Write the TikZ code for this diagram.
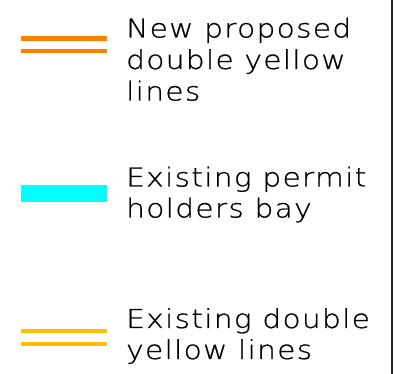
\documentclass[tikz,border=0pt]{standalone}
\usepackage{fontspec}
\setmainfont{DejaVu Sans ExtraLight}[LetterSpace=5,FakeStretch=1.14,FakeBold=0.8]
\begin{document}
\begin{tikzpicture}[x=1pt,y=-1pt,
  legtext/.style={anchor=base west,inner sep=0pt,font=\fontsize{26}{31}\selectfont,text=black},
  newdyl/.style={line width=4.5pt,color=neworange},
  exdyl/.style={line width=4pt,color=exyellow},
  bay/.style={fill=baycyan,draw=none}]
\definecolor{neworange}{RGB}{255,128,0}
\definecolor{exyellow}{RGB}{255,191,0}
\definecolor{baycyan}{RGB}{0,255,255}
\useasboundingbox (0,0) rectangle (394,374);
% border
\coordinate (bt) at (392,0);
\coordinate (bb) at (392,374);
\draw[line width=1.5pt,black!85] (bt) -- (bb);
% new double yellow lines
\coordinate (n1a) at (21,38.3); \coordinate (n1b) at (107,38.3);
\coordinate (n2a) at (21,51);   \coordinate (n2b) at (107,51);
\draw[newdyl] (n1a) -- (n1b);
\draw[newdyl] (n2a) -- (n2b);
\node[legtext] (t1a) at (126,37.5) {New proposed};
\node[legtext] (t1b) at (126,69) {double yellow};
\node[legtext] (t1c) at (126,100.5) {lines};
% permit holders bay
\coordinate (p1) at (21,185); \coordinate (p2) at (107,202);
\fill[bay] (p1) rectangle (p2);
\node[legtext] (t2a) at (126,186.5) {Existing permit};
\node[legtext] (t2b) at (126,217.5) {holders bay};
% existing double yellow lines
\coordinate (e1a) at (21,331); \coordinate (e1b) at (107,331);
\coordinate (e2a) at (21,344); \coordinate (e2b) at (107,344);
\draw[exdyl] (e1a) -- (e1b);
\draw[exdyl] (e2a) -- (e2b);
\node[legtext] (t3a) at (126,328) {Existing double};
\node[legtext] (t3b) at (126,359) {yellow lines};
\end{tikzpicture}
\end{document}
